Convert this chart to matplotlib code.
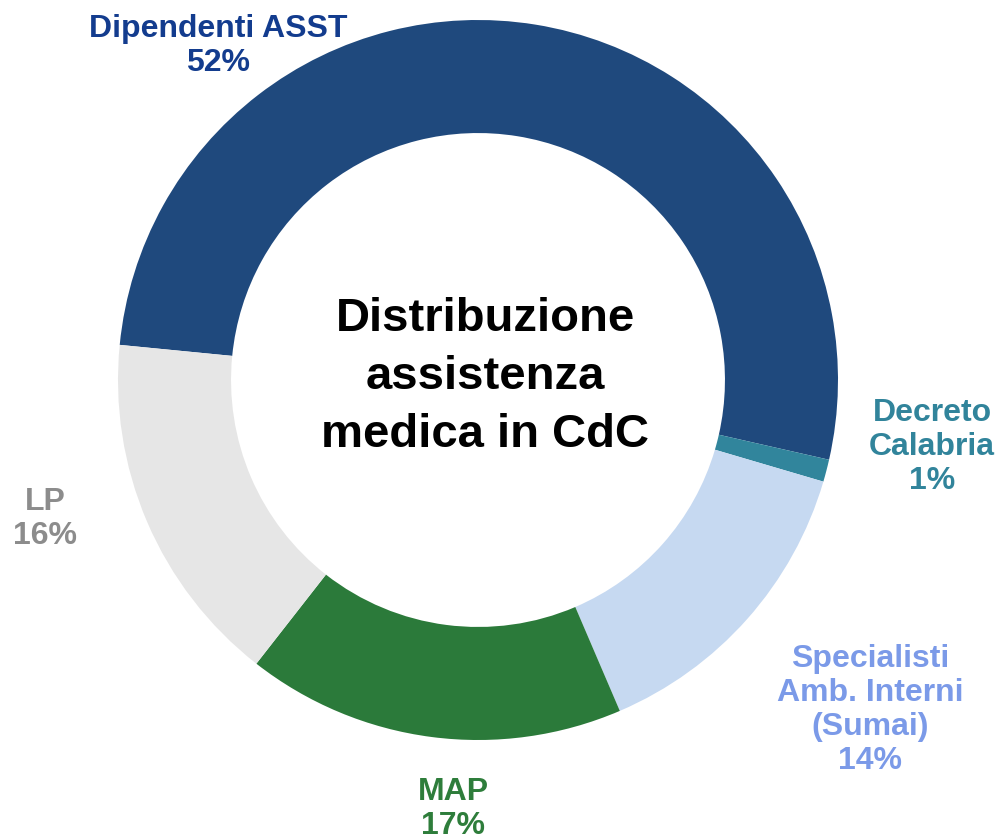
import matplotlib
matplotlib.use("Agg")
import matplotlib.pyplot as plt

categories = ["Dipendenti ASST", "Decreto\nCalabria", "Specialisti\nAmb. Interni\n(Sumai)", "MAP", "LP"]
values = [52, 1, 14, 17, 16]
wedge_colors = ["#1F497D", "#31859C", "#C6D9F1", "#2B7A3A", "#E6E6E6"]
text_colors = ["#133C8E", "#31849B", "#7B9AE8", "#2E7D3B", "#8C8C8C"]
title = "Distribuzione\nassistenza\nmedica in CdC"

plt.rcParams['font.family'] = ['Liberation Sans', 'DejaVu Sans']

W, H = 997, 840
fig = plt.figure(figsize=(W / 100, H / 100), dpi=100)
ax = fig.add_axes([0, 0, 1, 1])

cx, cy, R = 478, H - 380, 360
ax.pie(values, colors=wedge_colors, startangle=174.4, counterclock=False,
       radius=R, center=(cx, cy), frame=True,
       wedgeprops=dict(width=R * 0.314, linewidth=0))
ax.set_xlim(0, W)
ax.set_ylim(0, H)
ax.set_aspect("equal")
ax.axis("off")

label_pos = [(218, H - 46), (932, H - 447), (870, H - 710), (453, H - 809), (45, H - 519)]
for cat, v, col, (x, y) in zip(categories, values, text_colors, label_pos):
    ax.text(x, y, f"{cat}\n{v}%", ha="center", va="center", color=col,
            fontsize=23, fontweight="bold", linespacing=1.17)

ax.text(485, H - 377, title, ha="center", va="center", color="black",
        fontsize=34, fontweight="bold", linespacing=1.4)

fig.savefig("out.png", dpi=100)
